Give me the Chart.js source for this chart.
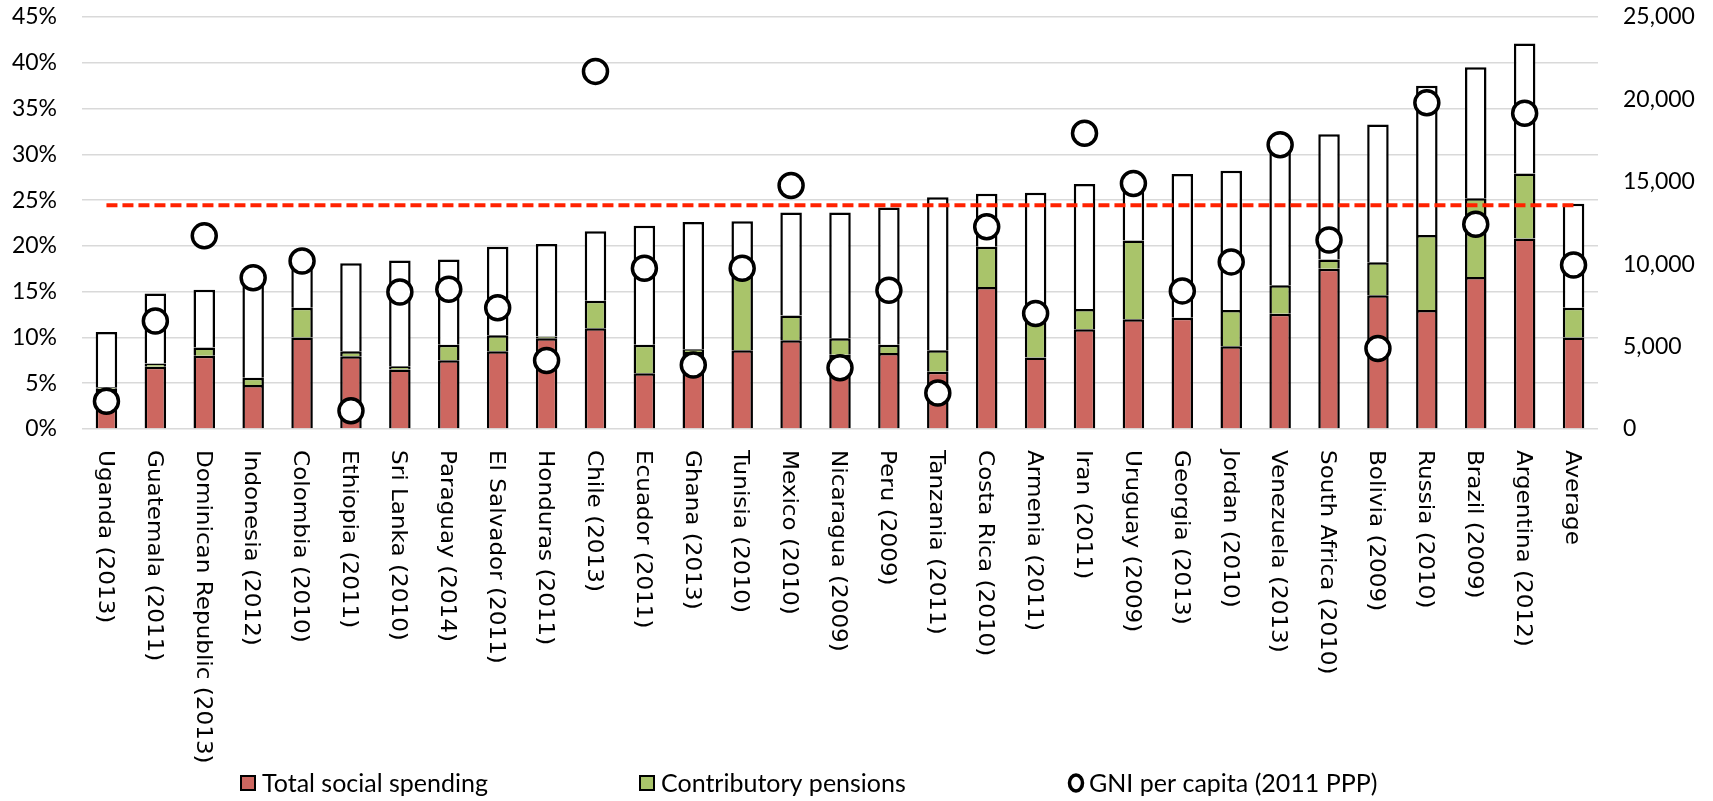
<!DOCTYPE html>
<html>
<head>
<meta charset="utf-8">
<script src="https://cdn.jsdelivr.net/npm/chart.js"></script>
<style>
  html, body { margin: 0; padding: 0; background: #fff; }
  #wrap { width: 1713px; height: 801px; position: relative; }
</style>
</head>
<body>
<div id="wrap"><canvas id="chart"></canvas></div>
<script>
  // Data
  const countries = ['Uganda (2013)', 'Guatemala (2011)', 'Dominican Republic (2013)', 'Indonesia (2012)',
    'Colombia (2010)', 'Ethiopia (2011)', 'Sri Lanka (2010)', 'Paraguay (2014)', 'El Salvador (2011)',
    'Honduras (2011)', 'Chile (2013)', 'Ecuador (2011)', 'Ghana (2013)', 'Tunisia (2010)', 'Mexico (2010)',
    'Nicaragua (2009)', 'Peru (2009)', 'Tanzania (2011)', 'Costa Rica (2010)', 'Armenia (2011)', 'Iran (2011)',
    'Uruguay (2009)', 'Georgia (2013)', 'Jordan (2010)', 'Venezuela (2013)', 'South Africa (2010)',
    'Bolivia (2009)', 'Russia (2010)', 'Brazil (2009)', 'Argentina (2012)', 'Average'];

  // % of GDP
  const socialSpending = [4.4, 6.8, 8.0, 4.8, 10.0, 7.95, 6.5, 7.5, 8.5, 9.9, 11.0, 6.1, 8.4, 8.6, 9.7,
    8.1, 8.3, 6.25, 15.5, 7.8, 10.9, 12.0, 12.15, 9.05, 12.6, 17.5, 14.6, 13.0, 16.6, 20.8, 10.0];
  const contributoryPensions = [0.15, 0.35, 0.9, 0.8, 3.25, 0.55, 0.35, 1.7, 1.75, 0.2, 3.0, 3.1, 0.3, 8.2, 2.7,
    1.8, 0.9, 2.35, 4.4, 4.2, 2.2, 8.6, 0, 3.95, 3.1, 1.0, 3.6, 8.2, 8.6, 7.1, 3.25];
  const totalBar = [10.6, 14.8, 15.2, 16.5, 17.6, 18.1, 18.4, 18.5, 19.9, 20.2, 21.6, 22.2, 22.6, 22.7, 23.65,
    23.65, 24.2, 25.3, 25.7, 25.8, 26.75, 27.2, 27.85, 28.2, 30.6, 32.2, 33.25, 37.5, 39.5, 42.1, 24.6];
  // GNI per capita, 2011 PPP (right axis)
  const gniPerCapita = [1680, 6550, 11720, 9180, 10200, 1110, 8310, 8480, 7360, 4160, 21700, 9750, 3880, 9750,
    14770, 3710, 8420, 2190, 12270, 7010, 17950, 14900, 8380, 10140, 17250, 11470, 4890, 19790, 12430, 19160, 9950];
  const referenceLevel = 24.45;

  const seriesNames = ['Total social spending', 'Contributory pensions', 'GNI per capita (2011 PPP)'];
  const leftTicks = { min: 0, max: 45, step: 5 };
  const rightTicks = { min: 0, max: 25000, step: 5000 };

  const RED = '#CD6760';
  const GREEN = '#A9C46A';
  const remainder = totalBar.map((t, i) => +(t - socialSpending[i] - contributoryPensions[i]).toFixed(2));

  const tickFont = { family: 'Lato, "Liberation Sans Narrow", sans-serif', size: 23 };
  const catFont = '22px "DejaVu Sans", Verdana, sans-serif';
  const legendFont = '25px Lato, "Liberation Sans Narrow", sans-serif';

  // x labels read top-to-bottom, so they are drawn here, rotated clockwise
  const rotatedLabels = {
    id: 'rotatedLabels',
    afterDraw(chart) {
      const { ctx, chartArea } = chart;
      const xs = chart.scales.x;
      ctx.save();
      ctx.font = catFont;
      ctx.fillStyle = '#000';
      ctx.textAlign = 'left';
      ctx.textBaseline = 'middle';
      countries.forEach((label, i) => {
        ctx.save();
        ctx.translate(xs.getPixelForValue(i) - 2, chartArea.bottom + 21);
        ctx.rotate(Math.PI / 2);
        ctx.scale(1.05, 1);
        ctx.fillText(label, 0, 0);
        ctx.restore();
      });
      ctx.restore();
    }
  };

  // legend laid out like the spreadsheet one: wide, evenly spread
  const wideLegend = {
    id: 'wideLegend',
    afterDraw(chart) {
      const { ctx } = chart;
      const xs = [241, 640, 1068];
      const y = 783;
      ctx.save();
      ctx.font = legendFont;
      ctx.textBaseline = 'middle';
      seriesNames.forEach((name, i) => {
        const x = xs[i];
        if (i < 2) {
          ctx.fillStyle = i === 0 ? RED : GREEN;
          ctx.fillRect(x, y - 7, 14, 14);
          ctx.lineWidth = 2;
          ctx.strokeStyle = '#000';
          ctx.strokeRect(x, y - 7, 14, 14);
        } else {
          ctx.beginPath();
          ctx.ellipse(x + 8, y, 6.5, 8, 0, 0, Math.PI * 2);
          ctx.fillStyle = '#fff';
          ctx.fill();
          ctx.lineWidth = 3.5;
          ctx.strokeStyle = '#000';
          ctx.stroke();
        }
        ctx.fillStyle = '#000';
        ctx.fillText(name, x + 21, y + 1);
      });
      ctx.restore();
    }
  };

  // tick padding on a vertical axis also pads its top/bottom; keep the plot where the picture has it
  const fixAxis = (width) => (s) => { s.width = width; s.paddingTop = 0; s.paddingBottom = 0; };

  new Chart(document.getElementById('chart'), {
    data: {
      labels: countries,
      datasets: [
        {
          type: 'line', label: seriesNames[2], data: gniPerCapita, yAxisID: 'y2', order: 0,
          showLine: false, pointRadius: 12, pointBorderWidth: 3.5,
          pointBackgroundColor: '#fff', pointBorderColor: '#000'
        },
        {
          type: 'line', label: 'reference', data: countries.map(() => referenceLevel), yAxisID: 'y',
          stack: 'ref', order: 1, borderColor: '#FF2200', borderWidth: 4, borderDash: [11, 5],
          pointRadius: 0, fill: false
        },
        {
          type: 'bar', label: seriesNames[0], data: socialSpending, stack: 'bars', order: 2,
          backgroundColor: RED, borderColor: '#000', borderWidth: 2.5
        },
        {
          type: 'bar', label: seriesNames[1], data: contributoryPensions, stack: 'bars', order: 2,
          backgroundColor: GREEN, borderColor: '#000', borderWidth: 2.5
        },
        {
          type: 'bar', label: 'rest', data: remainder, stack: 'bars', order: 2,
          backgroundColor: '#fff', borderColor: '#000', borderWidth: 2.5
        }
      ]
    },
    options: {
      responsive: true,
      maintainAspectRatio: false,
      animation: false,
      events: [],
      layout: { autoPadding: false, padding: { top: 17, bottom: 0, left: 0, right: 0 } },
      datasets: { bar: { categoryPercentage: 1, barPercentage: 0.44 } },
      plugins: { legend: { display: false }, tooltip: { enabled: false } },
      scales: {
        x: {
          stacked: true,
          grid: { display: false },
          border: { display: false },
          ticks: { color: 'transparent', font: { size: 21 }, minRotation: 90, maxRotation: 90, autoSkip: false },
          afterFit: (s) => { s.height = 372; }
        },
        y: {
          stacked: true,
          position: 'left',
          min: leftTicks.min, max: leftTicks.max,
          border: { display: false },
          grid: { color: '#D9D9D9', lineWidth: 1.5, drawTicks: false },
          ticks: { stepSize: leftTicks.step, padding: 25, color: '#000', font: tickFont, callback: (v) => v + '%' },
          afterFit: fixAxis(82)
        },
        y2: {
          position: 'right',
          min: rightTicks.min, max: rightTicks.max,
          border: { display: false },
          grid: { display: false, drawTicks: false },
          ticks: { stepSize: rightTicks.step, padding: 25, color: '#000', font: tickFont,
            callback: (v) => v.toLocaleString('en-US') },
          afterFit: fixAxis(115)
        }
      }
    },
    plugins: [rotatedLabels, wideLegend]
  });
</script>
</body>
</html>
